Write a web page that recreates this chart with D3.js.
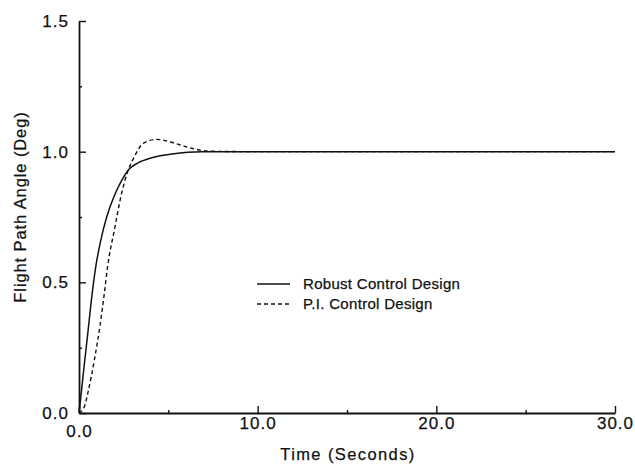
<!DOCTYPE html>
<html>
<head>
<meta charset="utf-8">
<script src="https://cdn.jsdelivr.net/npm/d3@7"></script>
<style>
  html, body { margin: 0; padding: 0; background: #fff; }
  svg { display: block; }
  text { font-family: Arial, "Liberation Sans", Helvetica, sans-serif; fill: #111; stroke: #111; stroke-width: 0.25; }
</style>
</head>
<body>
<svg id="chart" width="635" height="465"></svg>
<script>
// Step response samples (time in seconds, flight path angle in degrees)
const robustTime  = [0, 0.13, 0.32, 0.5, 0.69, 0.95, 1.2, 1.55, 2.0, 2.39, 2.76, 3.3, 4.07, 5.2, 6.9, 10, 15, 20, 25, 30];
const robustAngle = [0, 0.08, 0.2, 0.31, 0.43, 0.565, 0.655, 0.75, 0.835, 0.89, 0.93, 0.957, 0.977, 0.991, 1.0, 1.0, 1.0, 1.0, 1.0, 1.0];

const piTime  = [0, 0.3, 0.49, 0.86, 1.17, 1.42, 1.6, 1.98, 2.35, 2.57, 2.76, 3.1, 3.6, 4.35, 5.37, 6.3, 7.24, 10, 15, 20, 25, 30];
const piAngle = [0, 0.024, 0.075, 0.203, 0.332, 0.459, 0.56, 0.70, 0.83, 0.89, 0.93, 0.981, 1.032, 1.047, 1.032, 1.013, 1.002, 1.0, 1.0, 1.0, 1.0, 1.0];

const xMajorTicks = [0, 10, 20, 30];
const xMinorTicks = [5, 15, 25];
const yMajorTicks = [0, 0.5, 1.0, 1.5];
const yMinorTicks = [0.25, 0.75, 1.25];

const seriesNames = ["Robust Control Design", "P.I. Control Design"];

const svg = d3.select("#chart");

const x = d3.scaleLinear().domain([0, 30]).range([79, 615]);
const y = d3.scaleLinear().domain([0, 1.5]).range([413, 21]);

const fmt = d3.format(".1f");

// Y axis: inward ticks, no outer ticks
svg.append("g")
  .attr("transform", `translate(${x(0)},0)`)
  .call(d3.axisLeft(y).tickValues(yMajorTicks).tickFormat(fmt).tickSizeInner(-7).tickSizeOuter(0).tickPadding(10));
svg.append("g")
  .attr("transform", `translate(${x(0)},0)`)
  .call(d3.axisLeft(y).tickValues(yMinorTicks).tickFormat("").tickSizeInner(-3).tickSizeOuter(0))
  .call(g => g.select(".domain").remove());

// X axis
const xAxis = svg.append("g")
  .attr("transform", `translate(0,${y(0)})`)
  .call(d3.axisBottom(x).tickValues(xMajorTicks).tickFormat(fmt).tickSizeInner(-7).tickSizeOuter(0).tickPadding(4));
svg.append("g")
  .attr("transform", `translate(0,${y(0)})`)
  .call(d3.axisBottom(x).tickValues(xMinorTicks).tickFormat("").tickSizeInner(-3).tickSizeOuter(0))
  .call(g => g.select(".domain").remove());

// the origin label sits a little lower, clear of the y-axis "0.0"
xAxis.selectAll(".tick").filter(d => d === 0).select("text").attr("y", 12);

svg.selectAll(".domain").attr("stroke", "#111").attr("stroke-width", 1.8);
svg.selectAll(".tick line").attr("stroke", "#111").attr("stroke-width", 1.4);
svg.selectAll(".tick text")
  .attr("font-size", 17)
  .attr("letter-spacing", 1)
  .attr("font-family", "Arial, 'Liberation Sans', sans-serif")
  .attr("fill", "#111");

// Axis titles
svg.append("text")
  .attr("x", 348).attr("y", 460)
  .attr("text-anchor", "middle")
  .attr("font-size", 16.5)
  .attr("letter-spacing", 1.4)
  .text("Time (Seconds)");

svg.append("text")
  .attr("transform", "translate(26,207) rotate(-90)")
  .attr("text-anchor", "middle")
  .attr("font-size", 16.5)
  .attr("letter-spacing", 0.9)
  .text("Flight Path Angle (Deg)");

// Response curves
const line = d3.line()
  .x(d => x(d[0]))
  .y(d => y(d[1]))
  .curve(d3.curveMonotoneX);

svg.append("path")
  .datum(d3.zip(robustTime, robustAngle))
  .attr("fill", "none")
  .attr("stroke", "#111")
  .attr("stroke-width", 1.5)
  .attr("d", line);

svg.append("path")
  .datum(d3.zip(piTime, piAngle))
  .attr("fill", "none")
  .attr("stroke", "#111")
  .attr("stroke-width", 1.4)
  .attr("stroke-dasharray", "4,3")
  .attr("d", line);

// Legend
const legend = svg.append("g");
const legendRows = [
  { name: seriesNames[0], dash: null, yy: 284 },
  { name: seriesNames[1], dash: "4,3", yy: 304 }
];
legendRows.forEach(r => {
  legend.append("line")
    .attr("x1", 257).attr("x2", 290)
    .attr("y1", r.yy).attr("y2", r.yy)
    .attr("stroke", "#111")
    .attr("stroke-width", 1.3)
    .attr("stroke-dasharray", r.dash);
  legend.append("text")
    .attr("x", 303).attr("y", r.yy)
    .attr("dy", "0.35em")
    .attr("font-size", 15)
    .attr("letter-spacing", 0.3)
    .text(r.name);
});
</script>
</body>
</html>
